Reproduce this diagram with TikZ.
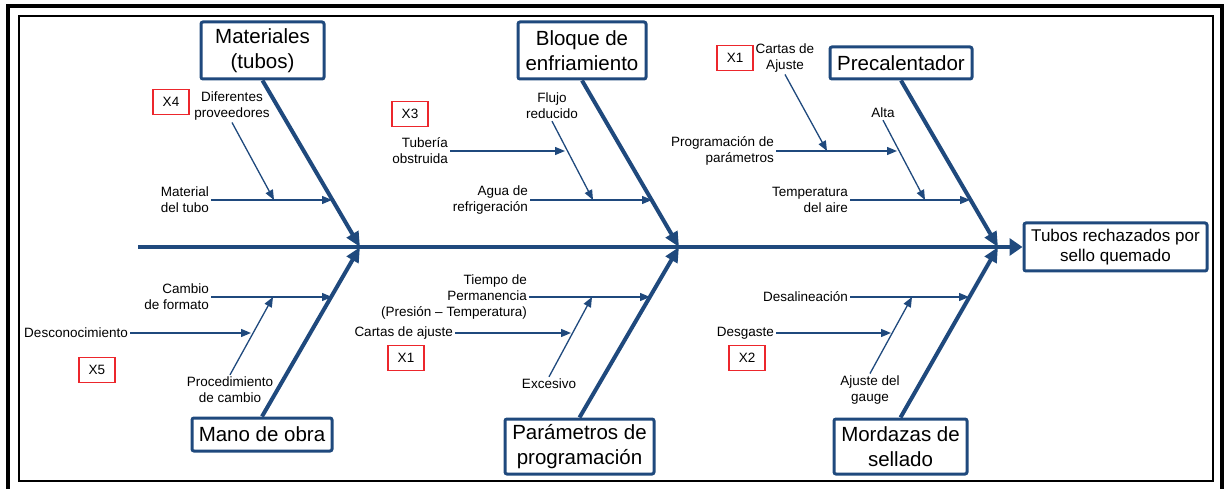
\documentclass[tikz,border=0pt]{standalone}
\usepackage{fontspec}
\setmainfont{Liberation Sans}
\usetikzlibrary{arrows.meta}

\definecolor{azul}{RGB}{31,73,125}
\definecolor{rojo}{RGB}{236,38,44}

\tikzset{
    causa/.style={draw=azul,line width=3pt,rounded corners=2pt,fill=white,align=center,inner sep=0pt,font=\fontsize{20.5}{25}\selectfont},
    efecto/.style={causa,font=\fontsize{17}{20.5}\selectfont},
    hueso/.style={azul,line width=4pt,-{Triangle[length=15pt,width=13pt]}},
    eje/.style={azul,line width=4pt,-{Triangle[length=13pt,width=17pt]}},
    espina/.style={azul,line width=1.3pt,-{Triangle[length=10pt,width=8pt]}},
    etiqueta/.style={inner sep=2pt,font=\fontsize{13.5}{16}\selectfont},
    marca/.style={draw=rojo,line width=1.2pt,minimum width=36pt,minimum height=25pt,inner sep=0pt,font=\fontsize{13.5}{16}\selectfont}
}

\begin{document}
\begin{tikzpicture}[x=1pt,y=-1pt]
    \useasboundingbox (0,0) rectangle (1224,489);

    % frames
    \draw[line width=4pt] (8,495) -- (8,6) -- (1222,6) -- (1222,495);
    \draw[line width=2pt] (19,16) rectangle (1213,481);

    % effect and spine
    \node[efecto,minimum width=183pt,minimum height=48pt] (efe) at (1115.5,247) {Tubos rechazados por\\sello quemado};
    \coordinate (sp) at (138,247);
    \draw[eje] (sp) -- (efe.west);

    % joints on the spine
    \coordinate (jm) at (360,247);
    \coordinate (jb) at (679,247);
    \coordinate (jp) at (998,247);

    % cause boxes
    \node[causa,minimum width=123pt,minimum height=57pt] (mat) at (262.5,50.5) {Materiales\\(tubos)};
    \node[causa,minimum width=128pt,minimum height=57pt] (blo) at (582,50.5) {Bloque de\\enfriamiento};
    \node[causa,minimum width=142pt,minimum height=32pt] (pre) at (901,63) {Precalentador};
    \node[causa,minimum width=140pt,minimum height=33pt] (man) at (262,434.5) {Mano de obra};
    \node[causa,minimum width=149pt,minimum height=55pt] (par) at (579.5,446.5) {Parámetros de\\programación};
    \node[causa,minimum width=133pt,minimum height=55pt] (mor) at (900.5,446.5) {Mordazas de\\sellado};

    % main bones
    \draw[hueso] (mat.south) -- (jm);
    \draw[hueso] (blo.south) -- (jb);
    \draw[hueso] (pre.south) -- (jp);
    \draw[hueso] (man.north) -- (jm);
    \draw[hueso] (par.north) -- (jb);
    \draw[hueso] (mor.north) -- (jp);

    % materiales (tubos)
    \node[marca] (x4) at (171,102) {X4};
    \node[etiqueta,align=center] (dif) at (232,106) {Diferentes\\proveedores};
    \node[etiqueta,align=right,anchor=east] (mtu) at (211,200) {Material\\del tubo};
    \coordinate (cm1) at (332,200);
    \coordinate (cdif) at (274,200);
    \draw[espina] (mtu.east) -- (cm1);
    \draw[espina] (dif.south) -- (cdif);

    % bloque de enfriamiento
    \node[marca] (x3) at (410,114) {X3};
    \node[etiqueta,align=center] (flu) at (552,106) {Flujo\\reducido};
    \node[etiqueta,align=right,anchor=east] (tub) at (450,151) {Tubería\\obstruida};
    \node[etiqueta,align=right,anchor=east] (agu) at (530,200) {Agua de\\refrigeración};
    \coordinate (cb1) at (565,151);
    \coordinate (cb2) at (593,200);
    \coordinate (cb3) at (652,200);
    \draw[espina] (tub.east) -- (cb1);
    \draw[espina] (flu.south) -- (cb2);
    \draw[espina] (agu.east) -- (cb3);

    % precalentador
    \node[marca] (x1a) at (735,58) {X1};
    \node[etiqueta,align=center] (car) at (785,58) {Cartas de\\Ajuste};
    \node[etiqueta,align=right,anchor=east] (pro) at (776,151) {Programación de\\parámetros};
    \node[etiqueta] (alt) at (883,113) {Alta};
    \node[etiqueta,align=right,anchor=east] (tem) at (850,200) {Temperatura\\del aire};
    \coordinate (cp1) at (827,151);
    \coordinate (cp2) at (897,151);
    \coordinate (cp3) at (925,200);
    \coordinate (cp4) at (970,200);
    \draw[espina] (car.south) -- (cp1);
    \draw[espina] (pro.east) -- (cp2);
    \draw[espina] (alt.south) -- (cp3);
    \draw[espina] (tem.east) -- (cp4);

    % mano de obra
    \node[marca] (x5) at (97,370) {X5};
    \node[etiqueta,align=right,anchor=east] (cam) at (211,297) {Cambio\\de formato};
    \node[etiqueta,anchor=east] (des) at (130,333) {Desconocimiento};
    \node[etiqueta,align=center] (prc) at (230,390) {Procedimiento\\de cambio};
    \coordinate (cm2) at (332,297);
    \coordinate (cm3) at (251,333);
    \coordinate (cm4) at (273,297);
    \draw[espina] (cam.east) -- (cm2);
    \draw[espina] (des.east) -- (cm3);
    \draw[espina] (prc.north) -- (cm4);

    % parametros de programacion
    \node[marca] (x1b) at (406,358) {X1};
    \node[etiqueta,align=right,anchor=east] (tie) at (529,297) {Tiempo de\\Permanencia\\(Presión – Temperatura)};
    \node[etiqueta,anchor=east] (cta) at (455,333) {Cartas de ajuste};
    \node[etiqueta] (exc) at (549,384) {Excesivo};
    \coordinate (cr1) at (650,297);
    \coordinate (cr2) at (571,333);
    \coordinate (cr3) at (592,297);
    \draw[espina] (tie.east) -- (cr1);
    \draw[espina] (cta.east) -- (cr2);
    \draw[espina] (exc.north) -- (cr3);

    % mordazas de sellado
    \node[marca] (x2) at (747,358) {X2};
    \node[etiqueta,anchor=east] (dsl) at (850,297) {Desalineación};
    \node[etiqueta,anchor=east] (dsg) at (776,333) {Desgaste};
    \node[etiqueta,align=center] (aju) at (870,390) {Ajuste del\\gauge};
    \coordinate (cs1) at (969,297);
    \coordinate (cs2) at (891,333);
    \coordinate (cs3) at (912,297);
    \draw[espina] (dsl.east) -- (cs1);
    \draw[espina] (dsg.east) -- (cs2);
    \draw[espina] (aju.north) -- (cs3);

\end{tikzpicture}
\end{document}
